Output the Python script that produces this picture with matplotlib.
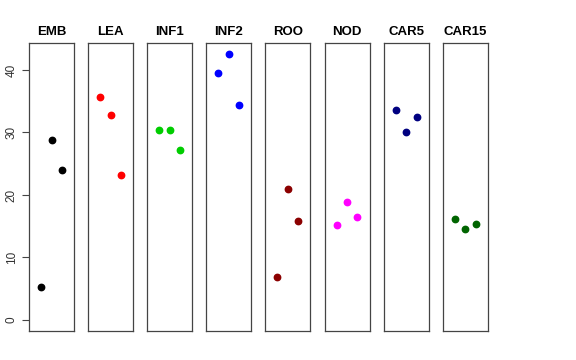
import matplotlib
matplotlib.use("Agg")
import matplotlib.pyplot as plt

plt.rcParams['font.family'] = ['Liberation Sans', 'DejaVu Sans']

tissues = ["EMB", "LEA", "INF1", "INF2", "ROO", "NOD", "CAR5", "CAR15"]
colors = ["black", "red", "#00CD00", "blue", "#8B0000", "magenta", "#000080", "#006400"]
replicates = [1, 2, 3]
values = [
    [5.2, 28.8, 24.0],
    [35.7, 32.8, 23.2],
    [30.4, 30.4, 27.2],
    [39.5, 42.6, 34.4],
    [6.8, 20.9, 15.8],
    [15.2, 18.8, 16.4],
    [33.6, 30.0, 32.4],
    [16.2, 14.6, 15.3],
]
yticks = [0, 10, 20, 30, 40]

W, H = 576, 360
fig = plt.figure(figsize=(5.76, 3.6), dpi=100)

left0, step, width = 29, 59.1, 45
top, bottom = 43, 331

for i, name in enumerate(tissues):
    x0 = left0 + step * i
    ax = fig.add_axes([x0 / W, 1 - bottom / H, width / W, (bottom - top) / H])
    ax.plot(replicates, values[i], "o", color=colors[i], markersize=4.6, linestyle="none")
    ax.set_xlim(-0.16, 4.16)
    ax.set_ylim(-1.76, 44.3)
    ax.set_xticks([])
    ax.set_title(name, fontsize=9.5, fontweight="bold", pad=6)
    for s in ax.spines.values():
        s.set_color("#444444")
        s.set_linewidth(0.9)
    if i == 0:
        ax.set_yticks(yticks)
        ax.set_yticklabels([str(t) for t in yticks], rotation=90, va="center",
                           fontsize=8.5, color="#333333")
        ax.tick_params(axis="y", length=5, width=0.8, color="#444444", pad=3)
    else:
        ax.set_yticks([])

fig.savefig("out.png", dpi=100)
